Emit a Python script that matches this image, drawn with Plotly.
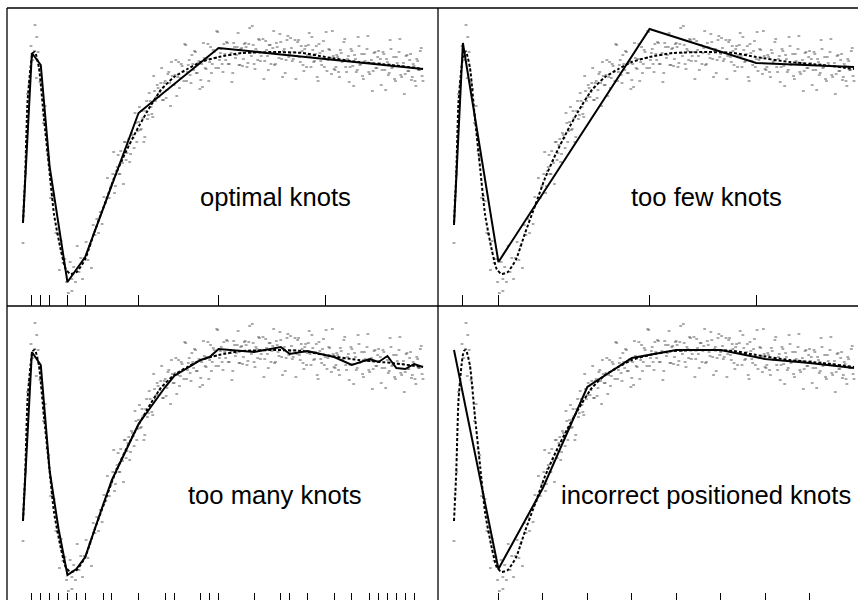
import plotly.graph_objects as go

# ---------------- data ----------------
# true (generating) curve
true_x = [0, 0.05, 0.10, 0.17, 0.22, 0.27, 0.36, 0.47, 0.59, 0.70, 0.85, 0.96, 1.07, 1.21, 1.40,
          1.60, 1.83, 2.05, 2.30, 2.55, 2.80, 3.10, 3.40, 3.70, 4.00, 4.40, 4.93, 5.70, 6.30,
          6.80, 7.55, 8.30, 9.00]
true_y = [0.00, 0.48, 1.20, 1.56, 1.70, 1.71, 1.55, 1.05, 0.54, 0.08, -0.27, -0.46, -0.51, -0.49,
          -0.36, -0.10, 0.18, 0.45, 0.70, 0.92, 1.12, 1.33, 1.46, 1.54, 1.61, 1.66, 1.70, 1.71,
          1.70, 1.66, 1.61, 1.58, 1.54]

# piecewise linear fits (end points + knots)
fit_optimal_x = [0, 0.2, 0.4, 0.6, 1.0, 1.4, 2.6, 4.4, 6.8, 9]
fit_optimal_y = [0.01, 1.70, 1.58, 0.56, -0.59, -0.34, 1.10, 1.75, 1.64, 1.54]

fit_few_x = [0, 0.2, 1.0, 4.4, 6.8, 9]
fit_few_y = [-0.02, 1.80, -0.39, 1.94, 1.60, 1.56]

fit_many_x = [0, 0.2, 0.4, 0.6, 0.8, 1.0, 1.2, 1.4, 1.8, 2.0, 2.6, 3.2, 3.4, 4.0, 4.2, 4.4, 5.2,
              5.8, 6.0, 6.4, 7.0, 7.4, 7.8, 8.0, 8.2, 8.4, 8.6, 8.8, 9]
fit_many_y = [0.01, 1.69, 1.56, 0.50, -0.08, -0.54, -0.48, -0.36, 0.16, 0.41, 0.97, 1.34, 1.45,
              1.61, 1.64, 1.72, 1.69, 1.74, 1.67, 1.70, 1.64, 1.56, 1.62, 1.59, 1.65, 1.53, 1.52,
              1.57, 1.54]

fit_wrong_x = [0, 1, 2, 3, 4, 5, 6, 7, 8, 9]
fit_wrong_y = [1.71, -0.48, 0.33, 1.34, 1.63, 1.71, 1.71, 1.62, 1.58, 1.53]

labels = ["optimal knots", "too few knots", "too many knots", "incorrect positioned knots"]

# noisy observations (same in every panel)
dot_x = [
    0.00, 0.27, 0.31, 1.10,
    0.02, 0.06, 0.10, 0.14, 0.18, 0.22, 0.26, 0.30, 0.34, 0.38, 0.42, 0.46, 0.50, 0.54, 0.58, 0.62, 0.66, 0.70, 0.74, 0.78, 0.82, 0.86, 0.90, 0.94, 0.98,
    1.02, 1.06, 1.10, 1.14, 1.18, 1.22, 1.26, 1.30, 1.34, 1.38, 1.42, 1.46, 1.50, 1.54, 1.58, 1.62, 1.66, 1.70, 1.74, 1.78, 1.82, 1.86, 1.90, 1.94, 1.98,
    2.02, 2.06, 2.10, 2.14, 2.18, 2.22, 2.26, 2.30, 2.34, 2.38, 2.42, 2.46, 2.50, 2.54, 2.58, 2.62, 2.66, 2.70, 2.74, 2.78, 2.82, 2.86, 2.90, 2.94, 2.98,
    2.04, 2.08, 2.12, 2.16, 2.20, 2.24, 2.28, 2.32, 2.36, 2.40, 2.44, 2.48, 2.52, 2.56, 2.60, 2.64, 2.68, 2.72, 2.76, 2.80, 2.84, 2.88, 2.92, 2.96, 3.00,
    3.02, 3.06, 3.10, 3.14, 3.18, 3.22, 3.26, 3.30, 3.34, 3.38, 3.42, 3.46, 3.50, 3.54, 3.58, 3.62, 3.66, 3.70, 3.74, 3.78, 3.82, 3.86, 3.90, 3.94, 3.98,
    3.04, 3.08, 3.12, 3.16, 3.20, 3.24, 3.28, 3.32, 3.36, 3.40, 3.44, 3.48, 3.52, 3.56, 3.60, 3.64, 3.68, 3.72, 3.76, 3.80, 3.84, 3.88, 3.92, 3.96, 4.00,
    4.02, 4.06, 4.10, 4.14, 4.18, 4.22, 4.26, 4.30, 4.34, 4.38, 4.42, 4.46, 4.50, 4.54, 4.58, 4.62, 4.66, 4.70, 4.74, 4.78, 4.82, 4.86, 4.90, 4.94, 4.98,
    4.04, 4.08, 4.12, 4.16, 4.20, 4.24, 4.28, 4.32, 4.36, 4.40, 4.44, 4.48, 4.52, 4.56, 4.60, 4.64, 4.68, 4.72, 4.76, 4.80, 4.84, 4.88, 4.92, 4.96, 5.00,
    5.02, 5.06, 5.10, 5.14, 5.18, 5.22, 5.26, 5.30, 5.34, 5.38, 5.42, 5.46, 5.50, 5.54, 5.58, 5.62, 5.66, 5.70, 5.74, 5.78, 5.82, 5.86, 5.90, 5.94, 5.98,
    5.04, 5.08, 5.12, 5.16, 5.20, 5.24, 5.28, 5.32, 5.36, 5.40, 5.44, 5.48, 5.52, 5.56, 5.60, 5.64, 5.68, 5.72, 5.76, 5.80, 5.84, 5.88, 5.92, 5.96, 6.00,
    6.02, 6.06, 6.10, 6.14, 6.18, 6.22, 6.26, 6.30, 6.34, 6.38, 6.42, 6.46, 6.50, 6.54, 6.58, 6.62, 6.66, 6.70, 6.74, 6.78, 6.82, 6.86, 6.90, 6.94, 6.98,
    6.04, 6.08, 6.12, 6.16, 6.20, 6.24, 6.28, 6.32, 6.36, 6.40, 6.44, 6.48, 6.52, 6.56, 6.60, 6.64, 6.68, 6.72, 6.76, 6.80, 6.84, 6.88, 6.92, 6.96, 7.00,
    7.02, 7.06, 7.10, 7.14, 7.18, 7.22, 7.26, 7.30, 7.34, 7.38, 7.42, 7.46, 7.50, 7.54, 7.58, 7.62, 7.66, 7.70, 7.74, 7.78, 7.82, 7.86, 7.90, 7.94, 7.98,
    7.04, 7.08, 7.12, 7.16, 7.20, 7.24, 7.28, 7.32, 7.36, 7.40, 7.44, 7.48, 7.52, 7.56, 7.60, 7.64, 7.68, 7.72, 7.76, 7.80, 7.84, 7.88, 7.92, 7.96, 8.00,
    8.02, 8.06, 8.10, 8.14, 8.18, 8.22, 8.26, 8.30, 8.34, 8.38, 8.42, 8.46, 8.50, 8.54, 8.58, 8.62, 8.66, 8.70, 8.74, 8.78, 8.82, 8.86, 8.90, 8.94, 8.98,
    8.04, 8.08, 8.12, 8.16, 8.20, 8.24, 8.28, 8.32, 8.36, 8.40, 8.44, 8.48, 8.52, 8.56, 8.60, 8.64, 8.68, 8.72, 8.76, 8.80, 8.84, 8.88, 8.92, 8.96, 9.00,
]
dot_y = [
    -0.20, 1.98, 1.86, -0.68,
    0.23, 0.49, 1.29, 1.39, 1.77, 1.63, 1.72, 1.45, 1.71, 1.41, 1.34, 1.00, 1.17, 0.72, 0.66, 0.25, 0.27, 0.22, -0.10, -0.11, -0.47, -0.18, -0.40, -0.36, -0.59,
    -0.70, -0.39, -0.56, -0.44, -0.59, -0.23, -0.49, -0.35, -0.56, -0.35, -0.19, -0.37, -0.23, -0.45, -0.02, -0.12, 0.04, -0.10, 0.11, -0.01, 0.26, 0.20, 0.45, 0.25, 0.37,
    0.49, 0.30, 0.52, 0.68, 0.49, 0.62, 0.39, 0.81, 0.70, 0.84, 0.69, 0.88, 0.75, 1.00, 0.92, 1.16, 0.94, 1.05, 0.86, 1.22, 1.08, 1.22, 1.09, 1.47, 1.22,
    0.71, 0.37, 0.56, 0.49, 0.72, 0.60, 0.81, 0.63, 0.78, 0.61, 0.90, 0.85, 1.10, 0.81, 1.01, 0.93, 1.12, 0.81, 1.12, 1.04, 1.30, 1.16, 1.06, 1.32, 1.26,
    1.38, 1.26, 1.40, 1.23, 1.40, 1.25, 1.49, 1.40, 1.61, 1.38, 1.48, 1.27, 1.61, 1.45, 1.57, 1.42, 1.78, 1.51, 1.63, 1.40, 1.59, 1.72, 1.50, 1.60, 1.34,
    1.35, 1.31, 1.55, 1.23, 1.42, 1.33, 1.51, 1.17, 1.47, 1.38, 1.63, 1.46, 1.35, 1.59, 1.51, 1.79, 1.42, 1.58, 1.48, 1.68, 1.53, 1.71, 1.50, 1.62, 1.43,
    1.59, 1.80, 1.55, 1.64, 1.42, 1.76, 1.59, 1.71, 1.55, 1.91, 1.63, 1.74, 1.51, 1.69, 1.81, 1.59, 1.68, 1.41, 1.80, 1.65, 1.76, 1.58, 1.74, 1.57, 1.79,
    1.36, 1.65, 1.54, 1.79, 1.61, 1.50, 1.73, 1.65, 1.92, 1.55, 1.70, 1.59, 1.79, 1.63, 1.80, 1.59, 1.70, 1.50, 1.76, 1.68, 1.90, 1.58, 1.75, 1.64, 1.80,
    1.76, 1.60, 1.95, 1.67, 1.78, 1.54, 1.72, 1.84, 1.62, 1.71, 1.44, 1.82, 1.67, 1.78, 1.59, 1.75, 1.58, 1.80, 1.69, 1.89, 1.64, 1.72, 1.50, 1.83, 1.66,
    1.56, 1.79, 1.70, 1.97, 1.59, 1.74, 1.63, 1.83, 1.67, 1.84, 1.62, 1.73, 1.53, 1.78, 1.70, 1.92, 1.59, 1.76, 1.65, 1.81, 1.46, 1.74, 1.63, 1.87, 1.69,
    1.85, 1.62, 1.71, 1.44, 1.81, 1.66, 1.77, 1.58, 1.74, 1.56, 1.78, 1.67, 1.86, 1.61, 1.69, 1.46, 1.79, 1.62, 1.72, 1.56, 1.91, 1.63, 1.73, 1.49, 1.67,
    1.75, 1.64, 1.83, 1.67, 1.83, 1.61, 1.72, 1.52, 1.77, 1.68, 1.90, 1.56, 1.73, 1.62, 1.77, 1.42, 1.70, 1.58, 1.82, 1.64, 1.52, 1.74, 1.65, 1.92, 1.54,
    1.53, 1.68, 1.51, 1.73, 1.61, 1.81, 1.56, 1.64, 1.41, 1.74, 1.57, 1.68, 1.51, 1.86, 1.58, 1.69, 1.44, 1.62, 1.74, 1.51, 1.60, 1.32, 1.70, 1.55, 1.66,
    1.56, 1.66, 1.46, 1.70, 1.62, 1.84, 1.51, 1.67, 1.56, 1.72, 1.37, 1.64, 1.53, 1.77, 1.59, 1.47, 1.69, 1.60, 1.87, 1.49, 1.63, 1.52, 1.71, 1.55, 1.72,
    1.60, 1.38, 1.71, 1.53, 1.64, 1.48, 1.83, 1.55, 1.66, 1.42, 1.60, 1.71, 1.48, 1.57, 1.29, 1.67, 1.52, 1.63, 1.43, 1.59, 1.42, 1.64, 1.53, 1.72, 1.47,
    1.64, 1.53, 1.69, 1.33, 1.61, 1.50, 1.74, 1.56, 1.44, 1.66, 1.57, 1.84, 1.46, 1.60, 1.49, 1.68, 1.52, 1.69, 1.46, 1.57, 1.37, 1.62, 1.53, 1.75, 1.42,
]

# ---------------- figure ----------------
W, H = 858, 600
fig = go.Figure()

fits = [(fit_optimal_x, fit_optimal_y), (fit_few_x, fit_few_y),
        (fit_many_x, fit_many_y), (fit_wrong_x, fit_wrong_y)]
suffix = ["", "2", "3", "4"]

for i, (fx, fy) in enumerate(fits):
    xa, ya = "x" + suffix[i], "y" + suffix[i]
    fig.add_trace(go.Scatter(x=dot_x, y=dot_y, mode="markers", xaxis=xa, yaxis=ya,
                             marker=dict(symbol="line-ew", size=2, color="#555555",
                                         line=dict(width=1, color="#555555")),
                             hoverinfo="skip"))
    fig.add_trace(go.Scatter(x=true_x, y=true_y, mode="lines", xaxis=xa, yaxis=ya,
                             line=dict(color="black", width=2, dash="3px,2px",
                                       shape="spline", smoothing=0.5),
                             hoverinfo="skip"))
    fig.add_trace(go.Scatter(x=fx, y=fy, mode="lines", xaxis=xa, yaxis=ya,
                             line=dict(color="black", width=2),
                             hoverinfo="skip"))

xl0, xm, yt, ym = 7 / W, 438 / W, 1 - 8 / H, 1 - 306 / H
dom_x = [[xl0, xm], [xm, 1.0], [xl0, xm], [xm, 1.0]]
dom_y = [[ym, yt], [ym, yt], [0.0, ym], [0.0, ym]]
rng_x = [[-0.36, 9.3375], [-0.36, 9.09], [-0.36, 9.3375], [-0.36, 9.09]]
rng_y = [[-0.83, 2.15], [-0.83, 2.15], [-0.79, 2.15], [-0.79, 2.15]]
tlen = [11, 11, 7, 7]

layout = dict(width=W, height=H, margin=dict(l=0, r=0, t=0, b=0),
              paper_bgcolor="white", plot_bgcolor="white", showlegend=False)
for i in range(4):
    fx = fits[i][0]
    layout["xaxis" + suffix[i]] = dict(domain=dom_x[i], range=rng_x[i], anchor="y" + suffix[i],
                                       showgrid=False, zeroline=False, showline=False,
                                       ticks="inside", ticklen=tlen[i], tickwidth=1,
                                       tickcolor="black", tickvals=fx[1:-1],
                                       showticklabels=False, fixedrange=True)
    layout["yaxis" + suffix[i]] = dict(domain=dom_y[i], range=rng_y[i], anchor="x" + suffix[i],
                                       visible=False, fixedrange=True)
fig.update_layout(**layout)

for i in range(4):
    fig.add_annotation(x=5.68, y=0.26, xref="x" + suffix[i], yref="y" + suffix[i],
                       text=labels[i], showarrow=False, xanchor="center", yanchor="middle",
                       font=dict(family="Liberation Sans, Arial, sans-serif", size=25.6,
                                 color="black"))

bl = dict(color="black", width=1.3)
fig.add_shape(type="line", xref="paper", yref="paper", x0=xl0, x1=1, y0=yt, y1=yt, line=bl)
fig.add_shape(type="line", xref="paper", yref="paper", x0=xl0, x1=xl0, y0=0, y1=yt, line=bl)
fig.add_shape(type="line", xref="paper", yref="paper", x0=xm, x1=xm, y0=0, y1=yt, line=bl)
fig.add_shape(type="line", xref="paper", yref="paper", x0=xl0, x1=1, y0=ym, y1=ym, line=bl)

fig.write_html("out.html")
